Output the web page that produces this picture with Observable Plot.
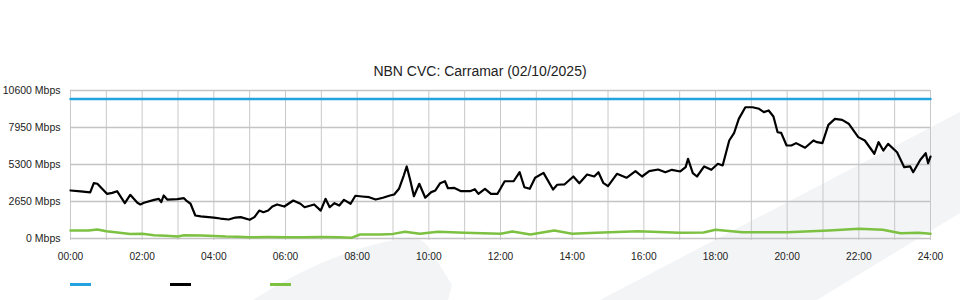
<!DOCTYPE html>
<html><head><meta charset="utf-8">
<script src="https://cdn.jsdelivr.net/npm/d3@7"></script>
<script src="https://cdn.jsdelivr.net/npm/@observablehq/plot@0.6"></script>
<style>
body{margin:0;width:960px;height:300px;position:relative;overflow:hidden;background:#fff;font-family:"Liberation Sans",Arial,sans-serif;}
#bg{position:absolute;left:0;top:0;z-index:0}
#title{position:absolute;left:0;top:63px;width:960px;text-align:center;font-size:14px;line-height:16px;color:#222;z-index:1}
#chart{position:absolute;left:0;top:80px;z-index:1}
#legend{position:absolute;left:70px;top:283px;display:flex;z-index:1}
.item{width:100px;height:4px;}
.sw{width:21px;height:3px;}
</style>
</head><body>
<svg id="bg" width="960" height="300">
  <path d="M253,300 Q330,250 405,238 Q420,236 428,246 L452,285 L448,300 Z" fill="#f3f4f6"/>
  <path d="M600,300 L960,112 L960,213 L817,300 Z" fill="#f3f4f6"/>
</svg>
<div id="title">NBN CVC: Carramar (02/10/2025)</div>
<div id="chart"></div>
<div id="legend"></div>
<script>
const seriesNames = ["Capacity", "Download", "Upload"];
const seriesColors = ["#22a3e0", "#000000", "#7cc142"];

const yTicks = [0, 2650, 5300, 7950, 10600];
const xTicks = [0, 2, 4, 6, 8, 10, 12, 14, 16, 18, 20, 22, 24];
const hourGrid = d3.range(0, 25);

const capacityTimes = ["00:00", "24:00"];
const capacityValues = [10000, 10000];

const downloadTimes = ["00:00","00:17","00:33","00:39","00:45","01:01","01:10","01:18","01:31","01:40","01:52","01:57","02:03","02:20","02:28","02:32","02:36","02:42","02:59","03:10","03:15","03:21","03:29","03:38","04:00","04:11","04:25","04:36","04:45","05:00","05:08","05:16","05:23","05:31","05:38","05:46","05:58","06:13","06:25","06:32","06:48","06:59","07:07","07:14","07:22","07:30","07:38","07:49","07:57","08:08","08:20","08:31","08:43","08:55","09:02","09:10","09:18","09:23","09:29","09:35","09:44","09:54","10:04","10:11","10:19","10:27","10:32","10:42","10:54","11:09","11:17","11:23","11:34","11:44","11:55","12:07","12:22","12:32","12:40","12:49","12:58","13:12","13:28","13:35","13:47","14:02","14:12","14:25","14:37","14:44","14:52","15:00","15:15","15:31","15:46","15:57","16:09","16:24","16:36","16:47","17:01","17:10","17:14","17:22","17:29","17:41","17:53","18:04","18:12","18:23","18:31","18:39","18:50","19:02","19:13","19:21","19:29","19:37","19:44","19:50","19:59","20:07","20:15","20:30","20:44","20:50","20:59","21:09","21:20","21:32","21:43","21:59","22:10","22:26","22:33","22:41","22:49","23:04","23:16","23:26","23:31","23:43","23:52","23:56","24:00"];
const downloadValues = [3440,3370,3300,3960,3920,3200,3270,3390,2540,3130,2560,2440,2560,2770,2840,2600,3080,2790,2820,2890,2670,2490,1650,1580,1500,1430,1360,1500,1530,1340,1530,2000,1880,2000,2290,2440,2290,2720,2490,2240,2440,2000,2840,2240,2530,2360,2770,2490,3060,3010,2960,2790,2920,3080,3150,3560,4510,5160,4150,3030,3920,2920,3320,3440,3960,4100,3600,3630,3390,3390,3530,3200,3560,3200,3200,4100,4100,4750,3670,3560,4350,4700,3510,3850,3870,4440,3960,4580,4440,4750,3990,3750,4630,4350,4820,4440,4820,4940,4750,4920,4800,5110,5710,4680,4440,5160,4920,5350,5230,7020,7540,8570,9400,9400,9290,9050,9170,8740,7610,7570,6660,6660,6830,6500,7020,6900,6830,8140,8570,8500,8220,7260,7020,6070,6900,6300,6780,6180,5110,5160,4750,5640,6110,5390,5870];

const uploadTimes = ["00:00","00:30","00:45","01:00","01:15","01:40","02:00","02:20","02:40","03:00","03:10","03:40","04:00","04:20","04:40","05:00","05:30","06:00","06:30","07:00","07:30","07:50","08:05","08:40","09:00","09:20","09:45","10:15","11:00","12:00","12:20","12:50","13:30","14:00","14:40","15:50","17:00","17:40","18:00","18:45","20:00","21:10","22:00","22:40","23:10","23:40","24:00"];
const uploadValues = [573,573,645,520,451,330,337,240,200,143,236,215,180,140,120,93,100,93,93,100,93,50,286,286,330,480,337,480,408,337,501,286,573,337,408,520,408,430,623,451,451,573,695,623,380,408,337];

const parseT = s => { const [h, m] = s.split(":").map(Number); return h + m / 60; };
const toRows = (times, values) => times.map((t, i) => ({t: parseT(t), v: values[i]}));
const capacity = toRows(capacityTimes, capacityValues);
const download = toRows(downloadTimes, downloadValues);
const upload = toRows(uploadTimes, uploadValues);

const chart = Plot.plot({
  width: 960, height: 188,
  marginLeft: 70, marginRight: 30, marginTop: 10, marginBottom: 30,
  style: {background: "transparent", fontFamily: "'Liberation Sans', Arial, sans-serif", color: "#222", overflow: "visible"},
  x: {domain: [0, 24]},
  y: {domain: [0, 10600]},
  marks: [
    Plot.ruleX(hourGrid, {stroke: "#c8c8c8", strokeWidth: 1, insetBottom: -2}),
    Plot.ruleY(yTicks, {stroke: "#c4c4c4", strokeWidth: 1.5}),
    Plot.axisY({ticks: yTicks, tickFormat: d => d + " Mbps", tickSize: 0, tickPadding: 10, fontSize: 10.5, label: null}),
    Plot.axisX({ticks: xTicks, tickFormat: d => String(d).padStart(2, "0") + ":00", tickSize: 0, tickPadding: 14, fontSize: 10.2, label: null}),
    Plot.line(upload, {x: "t", y: "v", stroke: seriesColors[2], strokeWidth: 2.5}),
    Plot.line(download, {x: "t", y: "v", stroke: seriesColors[1], strokeWidth: 2.2}),
    Plot.line(capacity, {x: "t", y: "v", stroke: seriesColors[0], strokeWidth: 2.5})
  ]
});
document.getElementById("chart").appendChild(chart);

const legend = document.getElementById("legend");
seriesNames.forEach((name, i) => {
  const item = document.createElement("div");
  item.className = "item";
  item.title = name;
  const sw = document.createElement("div");
  sw.className = "sw";
  sw.style.background = seriesColors[i];
  item.appendChild(sw);
  legend.appendChild(item);
});
</script>
</body></html>
